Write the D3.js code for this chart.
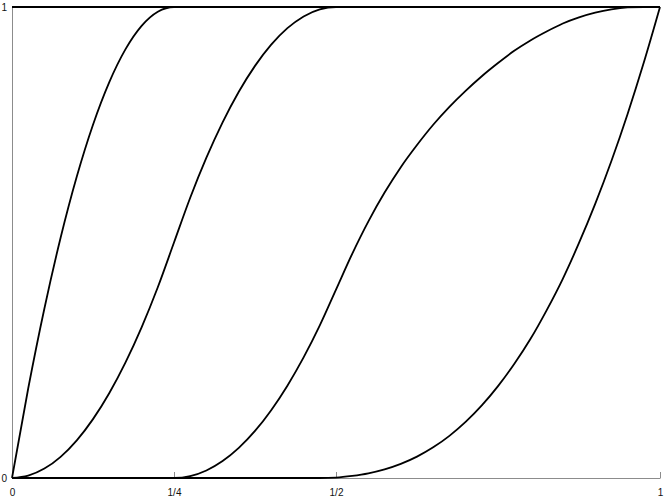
<!DOCTYPE html>
<html>
<head>
<meta charset="utf-8">
<script src="https://cdn.jsdelivr.net/npm/d3@7"></script>
<style>
  body { margin: 0; background: #fff; }
  text { font-family: "Liberation Sans", Arial, sans-serif; }
</style>
</head>
<body>
<div id="chart"></div>
<script>
// sample positions along x
var xs = [0, 0.025, 0.05, 0.075, 0.1, 0.125, 0.15, 0.175, 0.2, 0.225,
          0.25, 0.275, 0.3, 0.325, 0.35, 0.375, 0.4, 0.425, 0.45, 0.475,
          0.5, 0.525, 0.55, 0.575, 0.6, 0.625, 0.65, 0.675, 0.7, 0.725,
          0.75, 0.775, 0.8, 0.825, 0.85, 0.875, 0.9, 0.925, 0.95, 0.975, 1];

// curve values
var curveTop = [1, 1, 1, 1, 1, 1, 1, 1, 1, 1,
                1, 1, 1, 1, 1, 1, 1, 1, 1, 1,
                1, 1, 1, 1, 1, 1, 1, 1, 1, 1,
                1, 1, 1, 1, 1, 1, 1, 1, 1, 1, 1];
var curve1 = [0, 0.19, 0.36, 0.51, 0.64, 0.75, 0.84, 0.91, 0.96, 0.99,
              1, 1, 1, 1, 1, 1, 1, 1, 1, 1,
              1, 1, 1, 1, 1, 1, 1, 1, 1, 1,
              1, 1, 1, 1, 1, 1, 1, 1, 1, 1, 1];
var curve2 = [0, 0.005, 0.02, 0.045, 0.08, 0.125, 0.18, 0.245, 0.32, 0.405,
              0.5, 0.595, 0.68, 0.755, 0.82, 0.875, 0.92, 0.955, 0.98, 0.995,
              1, 1, 1, 1, 1, 1, 1, 1, 1, 1,
              1, 1, 1, 1, 1, 1, 1, 1, 1, 1, 1];
var curve3 = [0, 0, 0, 0, 0, 0, 0, 0, 0, 0,
              0, 0.004, 0.016, 0.036, 0.064, 0.1, 0.144, 0.196, 0.256, 0.324,
              0.4, 0.476, 0.545, 0.606, 0.66, 0.707, 0.75, 0.788, 0.822, 0.853,
              0.881, 0.907, 0.929, 0.948, 0.965, 0.978, 0.988, 0.995, 0.999, 1, 1];
var curve4 = [0, 0, 0, 0, 0, 0, 0, 0, 0, 0,
              0, 0, 0, 0, 0, 0, 0, 0, 0, 0,
              0.001, 0.0046, 0.01, 0.0183, 0.03, 0.0454, 0.0651, 0.0895, 0.119, 0.154,
              0.195, 0.242, 0.295, 0.356, 0.423, 0.499, 0.582, 0.673, 0.773, 0.882, 1];

var seriesList = [curveTop, curve1, curve2, curve3, curve4];

// axis ticks
var xTickValues = [0, 0.25, 0.5, 1];
var xTickLabels = ["0", "1/4", "1/2", "1"];
var yTickValues = [0, 1];
var yTickLabels = ["0", "1"];

var width = 664, height = 498;

var svg = d3.select("#chart")
    .append("svg")
    .attr("width", width)
    .attr("height", height);

var x = d3.scaleLinear().domain([0, 1]).range([12, 660]);
var y = d3.scaleLinear().domain([0, 1]).range([478, 7]);

var axisColor = "#8c8c8c";

// bottom axis, ticks point up into the plot
svg.append("g")
    .attr("transform", "translate(0," + y(0) + ")")
    .call(d3.axisBottom(x)
        .tickValues(xTickValues)
        .tickFormat(function(d, i) { return xTickLabels[i]; })
        .tickSizeInner(-6)
        .tickSizeOuter(0)
        .tickPadding(11));

// left axis, labels only
svg.append("g")
    .attr("transform", "translate(" + x(0) + ",0)")
    .call(d3.axisLeft(y)
        .tickValues(yTickValues)
        .tickFormat(function(d, i) { return yTickLabels[i]; })
        .tickSize(0)
        .tickPadding(5));

svg.selectAll(".domain, .tick line")
    .attr("stroke", axisColor)
    .attr("stroke-width", 1);

svg.selectAll(".tick text")
    .attr("fill", "#111")
    .style("font-size", "10px")
    .style("font-family", "'Liberation Sans', Arial, sans-serif");

// curves
var line = d3.line()
    .x(function(d) { return x(d[0]); })
    .y(function(d) { return y(d[1]); })
    .curve(d3.curveMonotoneX);

svg.append("g")
    .selectAll("path")
    .data(seriesList)
    .enter().append("path")
    .attr("d", function(vals) {
        return line(xs.map(function(xv, i) { return [xv, vals[i]]; }));
    })
    .attr("fill", "none")
    .attr("stroke", "#000")
    .attr("stroke-width", 1.8)
    .attr("stroke-linejoin", "round");
</script>
</body>
</html>
